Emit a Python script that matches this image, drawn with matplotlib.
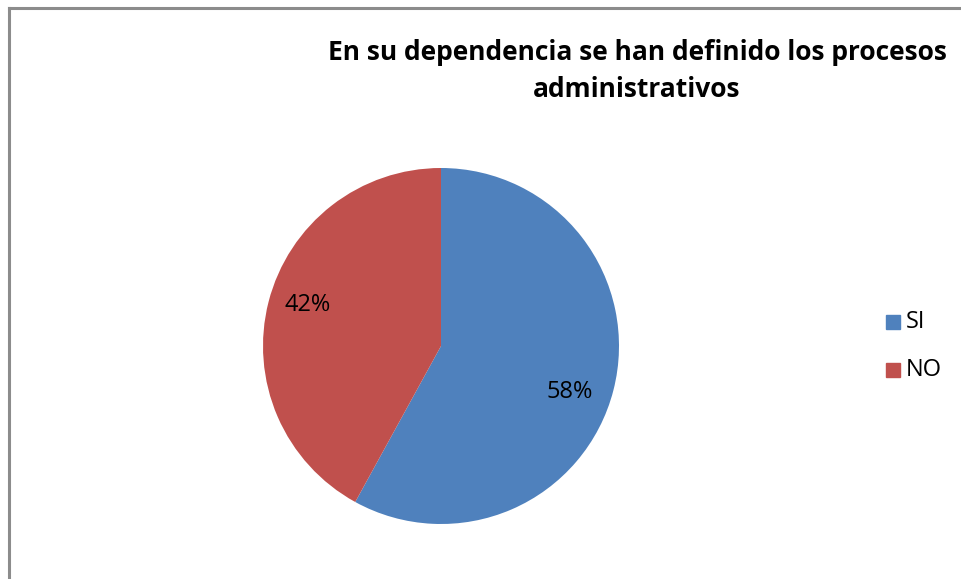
import matplotlib.pyplot as plt
from matplotlib.patches import Rectangle
from matplotlib.lines import Line2D

# data
labels = ['SI', 'NO']
values = [58, 42]
colors = ['#4F81BD', '#C0504D']
title = 'En su dependencia se han definido los procesos\nadministrativos'

plt.rcParams['font.family'] = ['Open Sans', 'DejaVu Sans']

W, H = 961, 579
fig = plt.figure(figsize=(W / 100, H / 100), dpi=100)

# chart frame (only left and top edges show)
fig.add_artist(Line2D([9 / W, 9 / W], [0, 1 - 8 / H], transform=fig.transFigure,
                      color='#8C8C8C', lw=2.2))
fig.add_artist(Line2D([9 / W, 1], [1 - 8 / H, 1 - 8 / H], transform=fig.transFigure,
                      color='#8C8C8C', lw=2.2))

# pie
cx, cy, r = 441, 346, 178
ax = fig.add_axes([(cx - r) / W, 1 - (cy + r) / H, 2 * r / W, 2 * r / H])
wedges, texts, autotexts = ax.pie(values, colors=colors, startangle=90,
                                  counterclock=False, autopct='%1.0f%%',
                                  pctdistance=0.77,
                                  wedgeprops=dict(edgecolor='none'),
                                  textprops=dict(fontsize=17, color='black'))
# excel "best fit" label spots (axes units of the unit pie)
label_pos = [(0.725, -0.258), (-0.747, 0.230)]
for t, p in zip(autotexts, label_pos):
    t.set_position(p)
ax.set_xlim(-1, 1)
ax.set_ylim(-1, 1)
ax.set_aspect('equal')
ax.axis('off')

fig.text(637 / W, 1 - 71 / H, title, ha='center', va='center',
         fontsize=19, fontweight='bold', linespacing=1.5)

# legend
for i, (lab, col) in enumerate(zip(labels, colors)):
    y = 322 + 48 * i
    fig.add_artist(Rectangle((886 / W, 1 - (y + 7) / H), 14 / W, 14 / H,
                             transform=fig.transFigure, color=col))
    fig.text(906 / W, 1 - y / H, lab, ha='left', va='center', fontsize=17)

fig.savefig('out.png', dpi=100)
